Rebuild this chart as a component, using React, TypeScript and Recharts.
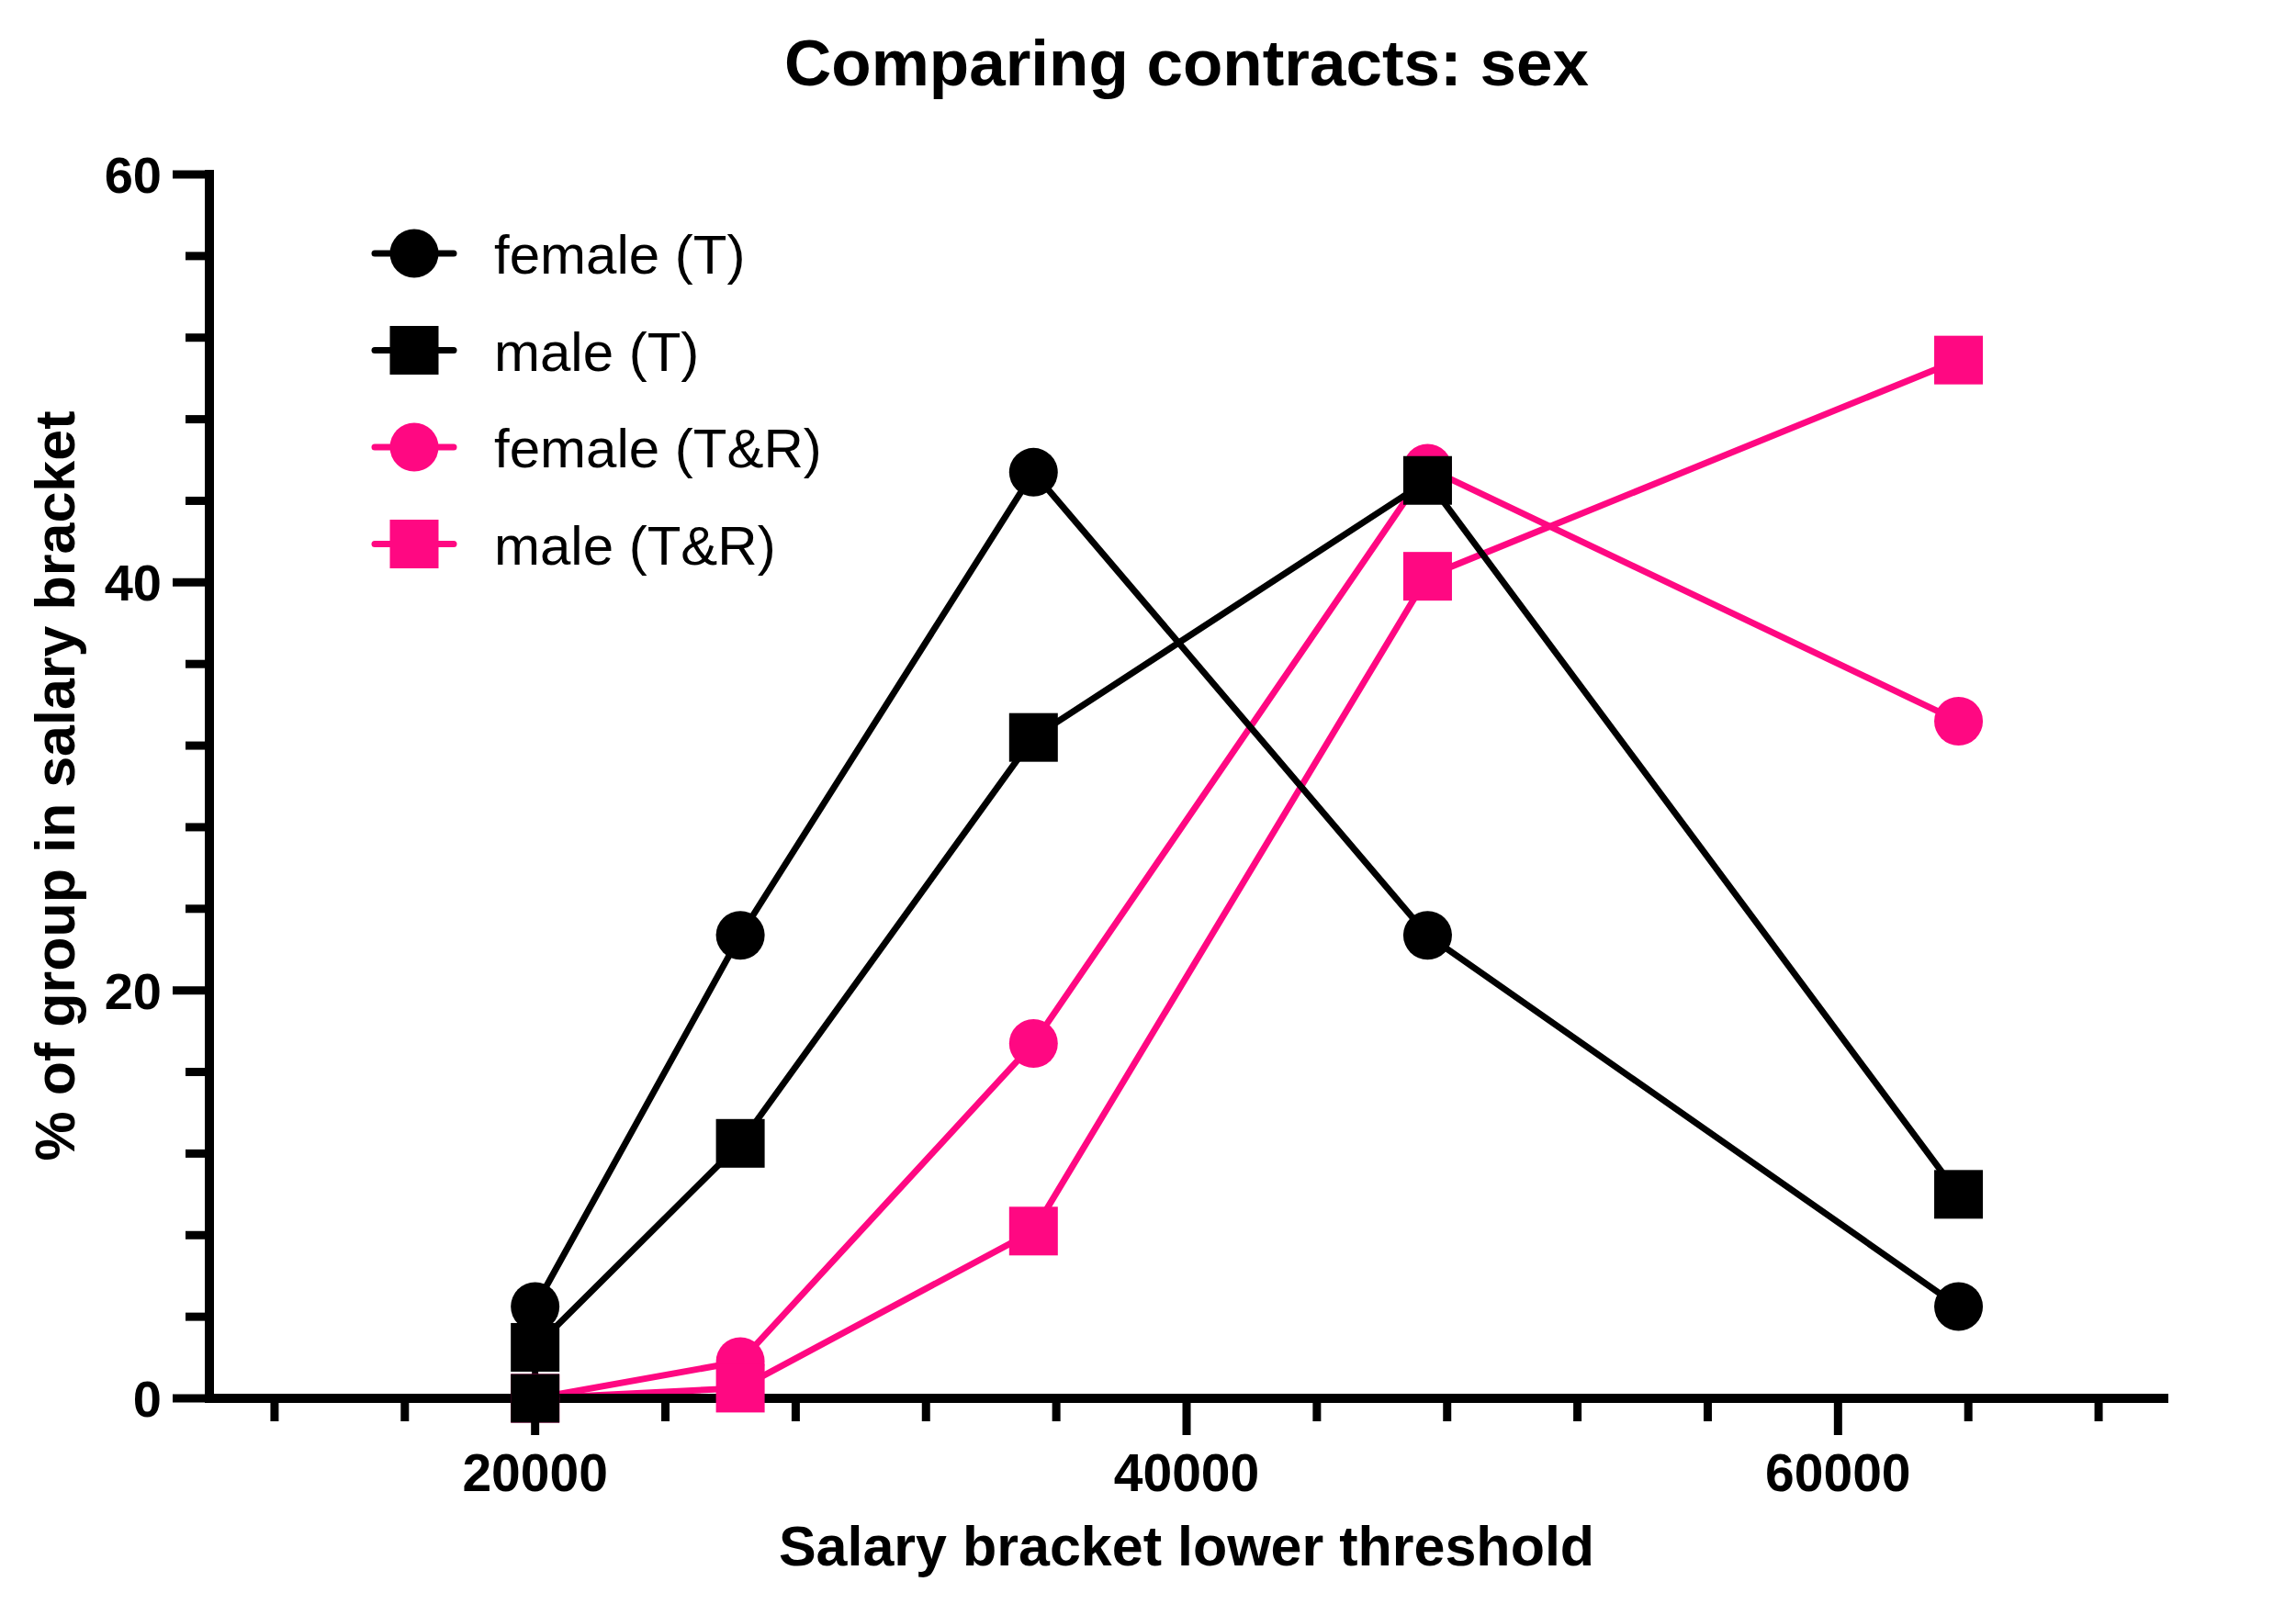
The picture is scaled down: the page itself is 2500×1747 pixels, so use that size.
import { LineChart, Line, XAxis, YAxis, Label, Legend } from 'recharts'

// salary bracket lower thresholds (x) and % of group in each bracket (y)
const BRACKETS = [20000, 26300, 35300, 47400, 63700]
const MALE_T_BRACKETS = [20000, 20000, 26300, 35300, 47400, 63700]

const FEMALE_T = [4.5, 22.7, 45.4, 22.7, 4.5]
const MALE_T = [0, 2.5, 12.5, 32.4, 45.0, 10.0]
const FEMALE_TR = [0, 1.8, 17.4, 45.6, 33.2]
const MALE_TR = [0, 0.5, 8.2, 40.3, 50.9]

const X_TICKS = [12000, 16000, 20000, 24000, 28000, 32000, 36000, 40000, 44000, 48000, 52000, 56000, 60000, 64000, 68000]
const X_LABELED = [20000, 40000, 60000]
const Y_TICKS = [0, 4, 8, 12, 16, 20, 24, 28, 32, 36, 40, 44, 48, 52, 56, 60]
const Y_LABELED = [0, 20, 40, 60]

const BLACK = '#000000'
const PINK = '#FF0882'
const FONT = '"Liberation Sans", Arial, Helvetica, sans-serif'

const W = 2500
const H = 1747
const PLOT_LEFT = 228
const PLOT_TOP = 190
const PLOT_RIGHT = 2356
const PLOT_BOTTOM = 1523
const PLOT_CX = (PLOT_LEFT + PLOT_RIGHT) / 2

const toPoints = (xs: number[], ys: number[]) => ys.map((y, i) => ({ x: xs[i], y }))

// legend order
const SERIES = [
  { name: 'female (T)', shape: 'circle', color: BLACK, data: toPoints(BRACKETS, FEMALE_T) },
  { name: 'male (T)', shape: 'square', color: BLACK, data: toPoints(MALE_T_BRACKETS, MALE_T) },
  { name: 'female (T&R)', shape: 'circle', color: PINK, data: toPoints(BRACKETS, FEMALE_TR) },
  { name: 'male (T&R)', shape: 'square', color: PINK, data: toPoints(BRACKETS, MALE_TR) },
]
// pink series are drawn underneath the black ones
const DRAW_ORDER = [SERIES[2], SERIES[3], SERIES[0], SERIES[1]]

const MARK = 53
const LINE_W = 7

function marker(shape: string, color: string) {
  return (props: any) => {
    const { cx, cy, index } = props
    if (cx == null || cy == null) return <g key={`m-${index}`} />
    if (shape === 'circle') {
      return <circle key={`m-${index}`} cx={cx} cy={cy} r={MARK / 2} fill={color} />
    }
    return <rect key={`m-${index}`} x={cx - MARK / 2} y={cy - MARK / 2} width={MARK} height={MARK} fill={color} />
  }
}

function XTick(props: any) {
  const { x, y, payload } = props
  const major = X_LABELED.includes(payload.value)
  return (
    <g>
      <line x1={x} x2={x} y1={y} y2={y + (major ? 40 : 25)} stroke={BLACK} strokeWidth={9} />
      {major && (
        <text x={x} y={y + 80} dy="0.36em" textAnchor="middle" fontFamily={FONT} fontWeight="bold" fontSize={57} fill={BLACK}>
          {payload.value}
        </text>
      )}
    </g>
  )
}

function YTick(props: any) {
  const { x, y, payload } = props
  const major = Y_LABELED.includes(payload.value)
  return (
    <g>
      <line x1={x} x2={x - (major ? 40 : 26)} y1={y} y2={y} stroke={BLACK} strokeWidth={9} />
      {major && (
        <text x={x - 52} y={y} dy="0.36em" textAnchor="end" fontFamily={FONT} fontWeight="bold" fontSize={56} fill={BLACK}>
          {payload.value}
        </text>
      )}
    </g>
  )
}

function LegendBox() {
  return (
    <svg width={560} height={420}>
      {SERIES.map((s, i) => {
        const cy = 56 + i * 105.5
        return (
          <g key={s.name}>
            <line x1={28} x2={114} y1={cy} y2={cy} stroke={s.color} strokeWidth={LINE_W} strokeLinecap="round" />
            {s.shape === 'circle' ? (
              <circle cx={71} cy={cy} r={MARK / 2} fill={s.color} />
            ) : (
              <rect x={71 - MARK / 2} y={cy - MARK / 2} width={MARK} height={MARK} fill={s.color} />
            )}
            <text x={158} y={cy + 22} fontFamily={FONT} fontSize={60} fill={BLACK}>
              {s.name}
            </text>
          </g>
        )
      })}
    </svg>
  )
}

export default function App() {
  return (
    <div style={{ position: 'absolute', left: 0, top: 0, width: W, height: H, background: '#fff' }}>
      <LineChart width={W} height={H} margin={{ top: PLOT_TOP, right: W - PLOT_RIGHT, bottom: 0, left: 0 }}>
        <XAxis
          type="number"
          dataKey="x"
          domain={[10000, 70000]}
          ticks={X_TICKS}
          interval={0}
          allowDataOverflow
          height={H - PLOT_BOTTOM}
          tickSize={0}
          tickMargin={0}
          tickLine={false}
          tick={<XTick />}
          axisLine={{ stroke: BLACK, strokeWidth: 10, strokeLinecap: 'square' }}
        >
          <Label
            content={() => (
              <text x={PLOT_CX} y={1705} textAnchor="middle" fontFamily={FONT} fontWeight="bold" fontSize={61} fill={BLACK}>
                Salary bracket lower threshold
              </text>
            )}
          />
          <Label
            content={() => (
              <text x={PLOT_CX} y={93} textAnchor="middle" fontFamily={FONT} fontWeight="bold" fontSize={71} fill={BLACK}>
                Comparing contracts: sex
              </text>
            )}
          />
        </XAxis>
        <YAxis
          type="number"
          domain={[0, 60]}
          ticks={Y_TICKS}
          interval={0}
          width={PLOT_LEFT}
          tickSize={0}
          tickMargin={0}
          tickLine={false}
          tick={<YTick />}
          axisLine={{ stroke: BLACK, strokeWidth: 10, strokeLinecap: 'square' }}
        >
          <Label
            content={() => (
              <text
                transform="translate(81, 856) rotate(-90)"
                textAnchor="middle"
                fontFamily={FONT}
                fontWeight="bold"
                fontSize={61}
                fill={BLACK}
              >
                % of group in salary bracket
              </text>
            )}
          />
        </YAxis>
        <Legend
          layout="vertical"
          align="center"
          verticalAlign="middle"
          wrapperStyle={{ left: 380, top: 220, width: 560, height: 420 }}
          content={() => <LegendBox />}
        />
        {DRAW_ORDER.map((s) => (
          <Line
            key={s.name}
            name={s.name}
            data={s.data}
            dataKey="y"
            type="linear"
            stroke={s.color}
            strokeWidth={LINE_W}
            dot={marker(s.shape, s.color)}
            activeDot={false}
            isAnimationActive={false}
          />
        ))}
      </LineChart>
    </div>
  )
}
